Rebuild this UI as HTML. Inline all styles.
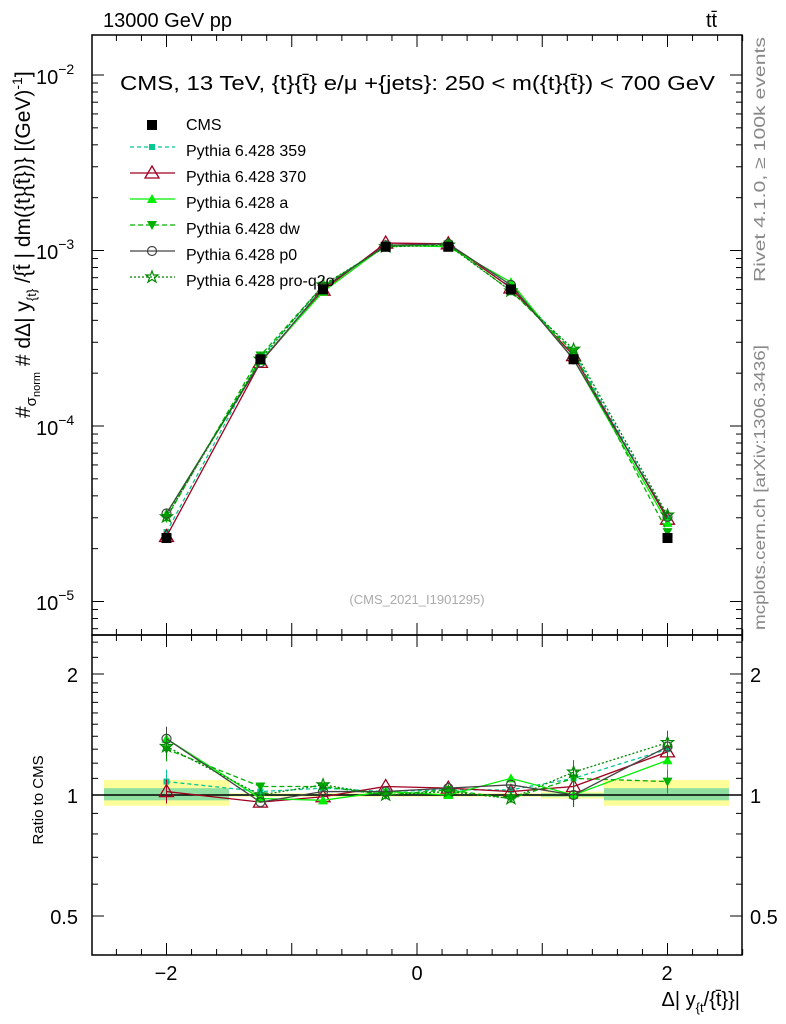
<!DOCTYPE html>
<html><head><meta charset="utf-8"><style>
body{margin:0;background:#fff}
svg{display:block;font-family:"Liberation Sans",sans-serif}
</style></head><body>
<svg id="s" width="786" height="1024" xmlns="http://www.w3.org/2000/svg">
<rect width="786" height="1024" fill="#fff"/>
<g id="bands"></g>
<g id="g"></g>
<rect x="92" y="35" width="650" height="600" fill="none" stroke="#000" stroke-width="1.5"/>
<rect x="92" y="635" width="650" height="320" fill="none" stroke="#000" stroke-width="1.5"/>
<text x="103" y="27" font-size="20">13000 GeV pp</text>
<text x="706" y="27" font-size="20">tt̄</text>
<text x="120" y="90" font-size="20" textLength="595" lengthAdjust="spacingAndGlyphs">CMS, 13 TeV, {t}{t̄} e/μ +{jets}: 250 &lt; m({t}{t̄}) &lt; 700 GeV</text>
<text x="417" y="604" font-size="13" fill="#aaa" text-anchor="middle">(CMS_2021_I1901295)</text>
<g font-size="16">
<text x="186" y="130">CMS</text>
<text x="186" y="156">Pythia 6.428 359</text>
<text x="186" y="182">Pythia 6.428 370</text>
<text x="186" y="208">Pythia 6.428 a</text>
<text x="186" y="234">Pythia 6.428 dw</text>
<text x="186" y="260">Pythia 6.428 p0</text>
<text x="186" y="286">Pythia 6.428 pro-q2o</text>
</g>
<g font-size="20">
<text x="36" y="84">10<tspan dy="-10" font-size="14">−2</tspan></text>
<text x="36" y="259">10<tspan dy="-10" font-size="14">−3</tspan></text>
<text x="36" y="435">10<tspan dy="-10" font-size="14">−4</tspan></text>
<text x="36" y="610">10<tspan dy="-10" font-size="14">−5</tspan></text>
<text x="78" y="682" text-anchor="end">2</text>
<text x="78" y="803" text-anchor="end">1</text>
<text x="78" y="924" text-anchor="end">0.5</text>
<text x="750" y="682">2</text>
<text x="750" y="803">1</text>
<text x="750" y="924">0.5</text>
<text x="166" y="980" text-anchor="middle">−2</text>
<text x="417" y="980" text-anchor="middle">0</text>
<text x="667" y="980" text-anchor="middle">2</text>
<text x="740" y="1006" text-anchor="end">Δ| y<tspan dy="6" font-size="13">{t</tspan><tspan dy="-6">/{t̄}}|</tspan></text>
</g>
<text transform="translate(43,800) rotate(-90)" font-size="15" text-anchor="middle">Ratio to CMS</text>
<text transform="translate(30,418) rotate(-90)" font-size="21">#<tspan font-size="15" dy="6">σ</tspan><tspan font-size="11" dy="4">norm</tspan><tspan dy="-10"> # dΔ| y</tspan><tspan font-size="13" dy="6">{t}</tspan><tspan dy="-6"> /{t̄ | dm({t}{t̄})} [(GeV)</tspan><tspan font-size="14" dy="-8">-1</tspan><tspan dy="8">]</tspan></text>
<text transform="translate(765,282) rotate(-90)" font-size="16" fill="#888" textLength="245" lengthAdjust="spacingAndGlyphs">Rivet 4.1.0, ≥ 100k events</text>
<text transform="translate(765,630) rotate(-90)" font-size="16" fill="#888" textLength="285" lengthAdjust="spacingAndGlyphs">mcplots.cern.ch [arXiv:1306.3436]</text>
<g id="leg"></g>
</svg>
<script>
const NS="http://www.w3.org/2000/svg",g=document.getElementById('g'),B=document.getElementById('bands'),L=document.getElementById('leg');
function el(p,t,a){const e=document.createElementNS(NS,t);for(const k in a)e.setAttribute(k,a[k]);p.appendChild(e);return e;}
const X=v=>417+125.25*v, YM=v=>75-175.5*(Math.log10(v)+2), YR=r=>795-402*Math.log10(r);
for(let v=-2.4;v<=2.61;v+=0.2){const x=X(v),maj=Math.abs(v-Math.round(v))<1e-6;const l=maj?12:6;
 [[35,1],[635,-1],[635,1],[955,-1]].forEach(([y,d])=>el(g,'line',{x1:x,x2:x,y1:y,y2:y+d*l,stroke:'#000'}));}
for(let d=-6;d<=-2;d++)for(let m=1;m<10;m++){const y=YM(m*Math.pow(10,d));if(y<35||y>635)continue;const l=m==1?12:6;
 el(g,'line',{x1:92,x2:92+l,y1:y,y2:y,stroke:'#000'});el(g,'line',{x1:742,x2:742-l,y1:y,y2:y,stroke:'#000'});}
[0.4,0.5,0.6,0.7,0.8,0.9,1,1.1,1.2,1.3,1.4,1.5,1.6,1.7,1.8,1.9,2,2.2,2.4].forEach(r=>{const y=YR(r);if(y<635||y>955)return;const l=[0.5,1,2].includes(r)?12:6;
 el(g,'line',{x1:92,x2:92+l,y1:y,y2:y,stroke:'#000'});el(g,'line',{x1:742,x2:742-l,y1:y,y2:y,stroke:'#000'});});
[[104,229,0.94,1.09,0.97,1.04],[229,541,0.99,1.01,0.995,1.005],[541,604,0.98,1.02,0.99,1.01],[604,729,0.94,1.09,0.97,1.04]].forEach(s=>{
 el(B,'rect',{x:s[0],width:s[1]-s[0],y:YR(s[3]),height:YR(s[2])-YR(s[3]),fill:'#fdfd9a'});
 el(B,'rect',{x:s[0],width:s[1]-s[0],y:YR(s[5]),height:YR(s[4])-YR(s[5]),fill:'#8fe0a0'});});
el(g,'line',{x1:92,x2:742,y1:795,y2:795,stroke:'#000','stroke-width':1.5});
const xs=[-2,-1.25,-0.75,-0.25,0.25,0.75,1.25,2];
const cms=[2.3e-5,2.4e-4,6e-4,1.05e-3,1.05e-3,6e-4,2.4e-4,2.3e-5];
const M=[
 ['#00c890','4,3','sq',[1.08,1.02,1.04,1.02,1.03,1.03,1.1,1.3]],
 ['#a00020','','tri',[1.02,0.96,0.99,1.05,1.04,1.02,1.05,1.28]],
 ['#00ee00','','ftri',[1.38,0.98,0.97,1.02,1.0,1.1,1.0,1.22]],
 ['#00b000','5,3','dtri',[1.3,1.05,1.05,1.0,1.03,0.98,1.1,1.08]],
 ['#444','','circ',[1.38,0.96,1.02,1.02,1.04,1.06,1.0,1.32]],
 ['#008800','2,2','star',[1.32,1.0,1.06,1.0,1.02,0.98,1.14,1.35]]];
function mark(p,t,x,y,c){
 if(t=='sq')el(p,'rect',{x:x-3,y:y-3,width:6,height:6,fill:c});
 if(t=='tri')el(p,'path',{d:`M${x},${y-7}L${x+7},${y+5}L${x-7},${y+5}Z`,fill:'none',stroke:c,'stroke-width':1.3});
 if(t=='ftri')el(p,'path',{d:`M${x},${y-5}L${x+5},${y+4}L${x-5},${y+4}Z`,fill:c});
 if(t=='dtri')el(p,'path',{d:`M${x},${y+5}L${x+5},${y-4}L${x-5},${y-4}Z`,fill:c});
 if(t=='circ')el(p,'circle',{cx:x,cy:y,r:4.5,fill:'none',stroke:c,'stroke-width':1.2});
 if(t=='star')el(p,'path',{d:`M${x},${y-6}L${x+1.5},${y-2}L${x+6},${y-2}L${x+2.5},${y+1}L${x+4},${y+5}L${x},${y+2.5}L${x-4},${y+5}L${x-2.5},${y+1}L${x-6},${y-2}L${x-1.5},${y-2}Z`,fill:'none',stroke:c,'stroke-width':1.2});
}
M.forEach((m,i)=>{
 const pm=xs.map((v,j)=>[X(v),YM(cms[j]*m[3][j])]),pr=xs.map((v,j)=>[X(v),YR(m[3][j])]);
 [pm,pr].forEach((P,k)=>{el(g,'polyline',{points:P.map(p=>p.join(',')).join(' '),fill:'none',stroke:m[0],'stroke-width':1.3,'stroke-dasharray':m[1]});
  P.forEach((p,j)=>{if(k==1&&(j==0||j==6||j==7))el(g,'line',{x1:p[0],x2:p[0],y1:p[1]-12,y2:p[1]+12,stroke:m[0]});mark(g,m[2],p[0],p[1],m[0]);});});
 const y=152+26*i-5;el(L,'line',{x1:130,x2:175,y1:y,y2:y,stroke:m[0],'stroke-width':1.3,'stroke-dasharray':m[1]});mark(L,m[2],152,y,m[0]);
});
xs.forEach((v,j)=>{const x=X(v),y=YM(cms[j]);el(g,'rect',{x:x-5,y:y-5,width:10,height:10,fill:'#000'});});
el(L,'rect',{x:147,y:120,width:10,height:10,fill:'#000'});
</script>
</body></html>
